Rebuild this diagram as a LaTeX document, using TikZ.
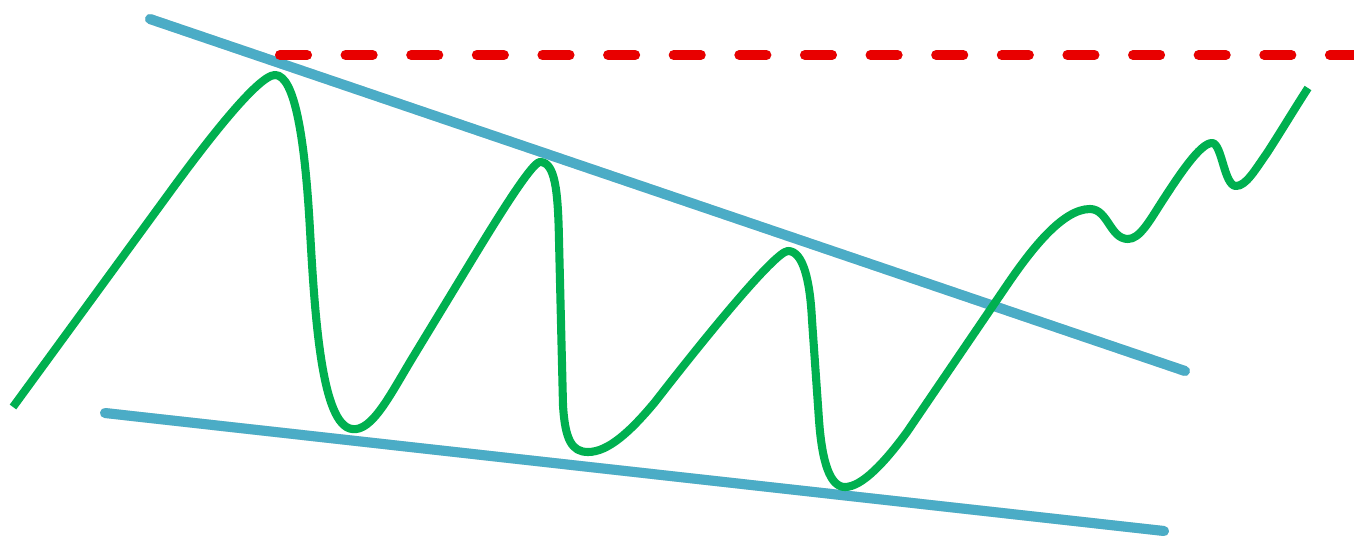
\documentclass[tikz,border=0pt]{standalone}
\usepackage{tikz}
\definecolor{wedgeblue}{RGB}{75,172,198}
\definecolor{pricegreen}{RGB}{0,176,80}
\definecolor{breakred}{RGB}{232,0,0}
\tikzset{wedge/.style={draw=wedgeblue,line width=2.85pt,line cap=round},
castshadow/.style={draw=black!45,opacity=.35,shift={(1.5,2.5)}},
price/.style={draw=pricegreen,line width=2.3pt,line join=round},
level/.style={draw=breakred,line width=2.85pt,line cap=round,dash pattern=on 7.68pt off 10.98pt}}

\begin{document}
\begin{tikzpicture}[x=0.01cm,y=-0.01cm]
\useasboundingbox(0,0)rectangle(1354,539);
\coordinate(ut)at(150,19);\coordinate(ub)at(1185,371);\coordinate(lt)at(105,413);\coordinate(lb)at(1164,531);
\coordinate(rs)at(280,55);\coordinate(re)at(1354,55);
\coordinate(pk1)at(275,75);\coordinate(bt1)at(352,429);\coordinate(pk2)at(540,162);\coordinate(bt2)at(588,452);
\coordinate(pk3)at(788,251);\coordinate(bt3)at(845,487);\coordinate(pk4)at(1090,209);\coordinate(dp4)at(1128,239);
\coordinate(pk5)at(1212,143);\coordinate(dp5)at(1236,186);\coordinate(tip)at(1308,88);
\draw[wedge,castshadow](ut)--(ub)(lt)--(lb);\draw[level,castshadow](rs)--(re);
\draw[wedge](ut)--(ub);\draw[wedge](lt)--(lb);
\draw[price](13,407)--(170,192)..controls(205,144)and(258,75)..(pk1)
 ..controls(295,75)and(305,140)..(310,230)..controls(315,320)and(322,425)..(bt1)
 ..controls(372,432)and(390,395)..(413,357)--(475,255)..controls(497,219)and(532,162)..(pk2)
 ..controls(555,162)and(558,190)..(559,240)--(563,405)..controls(565,440)and(572,452)..(bt2)
 ..controls(608,452)and(630,432)..(655,402)..controls(700,344)and(775,251)..(pk3)
 ..controls(803,251)and(810,280)..(812,320)--(819,420)..controls(822,462)and(830,487)..(bt3)
 ..controls(862,487)and(885,462)..(907,432)--(1005,288)..controls(1030,251)and(1062,209)..(pk4)
 ..controls(1108,209)and(1110,239)..(dp4)..controls(1140,239)and(1150,220)..(1163,200)
 ..controls(1178,177)and(1200,143)..(pk5)..controls(1222,143)and(1224,186)..(dp5)
 ..controls(1246,186)and(1255,170)..(1267,153)..controls(1280,133)and(1295,108)..(tip);
\draw[level](rs)--(re);
\end{tikzpicture}
\end{document}
